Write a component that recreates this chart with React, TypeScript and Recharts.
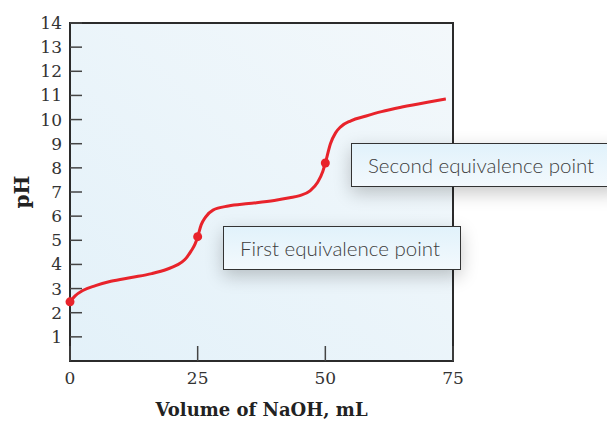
import { LineChart, Line, XAxis, YAxis, ReferenceArea, ReferenceDot } from 'recharts'

const volume = [0, 1, 2.5, 5, 8, 12, 16, 19, 21, 22.5, 23.7, 24.5, 25, 25.7, 26.5, 28, 31, 35, 40, 43, 45, 47, 48.5, 49.5, 50, 51, 52, 53, 55, 58, 61, 65, 70, 73.6]
const pH = [2.45, 2.7, 2.92, 3.12, 3.3, 3.46, 3.62, 3.8, 3.98, 4.2, 4.55, 4.85, 5.15, 5.65, 5.95, 6.25, 6.42, 6.52, 6.65, 6.76, 6.85, 7.05, 7.4, 7.85, 8.2, 9.0, 9.45, 9.7, 9.95, 10.15, 10.33, 10.52, 10.72, 10.85]

const markVolume = [0, 25, 50]
const markPH = [2.45, 5.15, 8.2]

const xTicks = [0, 25, 50, 75]
const yTicks = [1, 2, 3, 4, 5, 6, 7, 8, 9, 10, 11, 12, 13, 14]

const data = volume.map((v, i) => ({ volume: v, pH: pH[i] }))

const tickFont = { fontFamily: '"DejaVu Serif", serif', fontSize: 17, fill: '#333' }
const titleFont = '"DejaVu Serif", serif'

function YTick(props: any) {
  const { x, y, payload } = props
  return (
    <g>
      <line x1={x + 7} x2={x + 19} y1={y} y2={y} stroke="#444" strokeWidth={1.5} />
      <text x={x - 1} y={y} textAnchor="end" dominantBaseline="central" {...tickFont}>
        {payload.value}
      </text>
    </g>
  )
}

function XTick(props: any) {
  const { x, y, payload } = props
  return (
    <g>
      <line x1={x} x2={x} y1={y - 8} y2={y - 23} stroke="#444" strokeWidth={1.5} />
      <text x={x} y={y + 9} textAnchor="middle" dominantBaseline="central" {...tickFont}>
        {payload.value}
      </text>
    </g>
  )
}

const boxStyle: React.CSSProperties = {
  position: 'absolute',
  boxSizing: 'border-box',
  border: '1.5px solid #333',
  background: 'linear-gradient(to bottom, #e1f2fb, #f3f9fd)',
  boxShadow: '0 6px 18px rgba(0,0,0,0.22)',
  fontFamily: 'Lato, sans-serif',
  fontWeight: 300,
  fontSize: 20.5,
  color: '#3d3d3d',
  display: 'flex',
  alignItems: 'center',
  paddingLeft: 16,
}

export default function App() {
  return (
    <div style={{ position: 'absolute', left: 0, top: 0, width: 607, height: 421, overflow: 'hidden', background: '#fff' }}>
      <LineChart width={607} height={421} data={data} margin={{ top: 23, right: 154, left: 0, bottom: 0 }}>
        <defs>
          <linearGradient id="plotBg" x1="0" y1="1" x2="1" y2="0">
            <stop offset="0%" stopColor="#e3f1f9" />
            <stop offset="100%" stopColor="#f3f8fb" />
          </linearGradient>
        </defs>
        <XAxis
          dataKey="volume"
          type="number"
          domain={[0, 75]}
          ticks={xTicks}
          height={60}
          tickSize={0}
          tickMargin={8}
          tickLine={false}
          axisLine={false}
          tick={<XTick />}
          label={{
            value: 'Volume of NaOH, mL',
            position: 'insideBottom',
            offset: 5,
            style: { fontFamily: titleFont, fontWeight: 'bold', fontSize: 18, fill: '#222' },
          }}
        />
        <YAxis
          type="number"
          domain={[0, 14]}
          ticks={yTicks}
          width={70}
          tickSize={0}
          tickMargin={7}
          tickLine={false}
          axisLine={false}
          tick={<YTick />}
          label={{
            content: ({ viewBox }: any) => {
              const cx = viewBox.x + 22
              const cy = viewBox.y + viewBox.height / 2
              return (
                <text
                  x={cx}
                  y={cy}
                  transform={`rotate(-90, ${cx}, ${cy})`}
                  textAnchor="middle"
                  dominantBaseline="central"
                  fontFamily={titleFont}
                  fontWeight="bold"
                  fontSize={20}
                  fill="#222"
                >
                  pH
                </text>
              )
            },
          }}
        />
        <ReferenceArea x1={0} x2={75} y1={0} y2={14} fill="url(#plotBg)" fillOpacity={1} stroke="#2b2b2b" strokeWidth={2} />
        <Line
          dataKey="pH"
          type="monotone"
          stroke="#e8232b"
          strokeWidth={3}
          dot={false}
          activeDot={false}
          isAnimationActive={false}
        />
        {markVolume.map((v, i) => (
          <ReferenceDot key={v} x={v} y={markPH[i]} r={4.5} fill="#e8232b" stroke="none" />
        ))}
      </LineChart>
      <div style={{ ...boxStyle, left: 351, top: 143, width: 270, height: 44 }}>Second equivalence point</div>
      <div style={{ ...boxStyle, left: 223, top: 226, width: 238, height: 44 }}>First equivalence point</div>
    </div>
  )
}
